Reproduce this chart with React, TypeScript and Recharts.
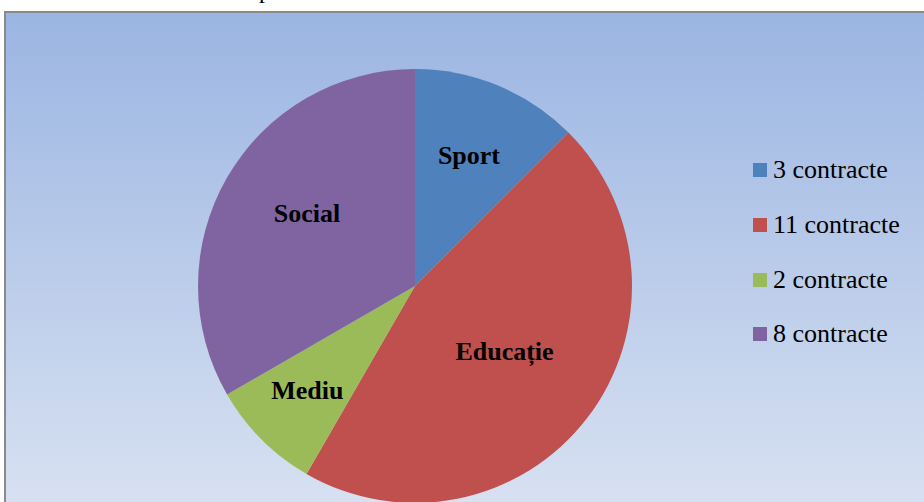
import React from "react";
import { PieChart, Pie, Cell, Legend } from "recharts";

const categories = ["Sport", "Educație", "Mediu", "Social"];
const contracts = [3, 11, 2, 8];
const legendLabels = ["3 contracte", "11 contracte", "2 contracte", "8 contracte"];
const colors = ["#4F81BD", "#C0504D", "#9BBB59", "#8064A2"];

// label placement inside each slice (Excel "best fit" style): radius fraction + angle nudge
const labelRadius = [0.65, 0.51, 0.69, 0.6];
const labelAngleShift = [0, 1.5, -1, -4];

const data = categories.map((name, i) => ({
  name,
  value: contracts[i],
  legend: legendLabels[i],
}));

const RADIAN = Math.PI / 180;
const serif = "'Liberation Serif', 'Times New Roman', serif";

const renderLabel = (props: any) => {
  const { cx, cy, midAngle, outerRadius, index, name } = props;
  const r = outerRadius * labelRadius[index];
  const a = (midAngle + labelAngleShift[index]) * RADIAN;
  const x = cx + r * Math.cos(-a);
  const y = cy + r * Math.sin(-a);
  return (
    <text
      x={x}
      y={y}
      textAnchor="middle"
      dominantBaseline="central"
      fill="#000"
      style={{ fontFamily: serif, fontWeight: 700, fontSize: 26 }}
    >
      {name}
    </text>
  );
};

const renderLegend = () => (
  <div style={{ fontFamily: serif, fontSize: 26, color: "#000" }}>
    {data.map((d, i) => (
      <div key={d.name} style={{ display: "flex", alignItems: "center", height: 54.7 }}>
        <span style={{ display: "inline-block", width: 14, height: 14, background: colors[i], marginRight: 6 }} />
        <span style={{ lineHeight: "26px" }}>{d.legend}</span>
      </div>
    ))}
  </div>
);

export default function App() {
  return (
    <div style={{ position: "absolute", left: 0, top: 0, width: 924, height: 502, overflow: "hidden", background: "#fff" }}>
      {/* chart title, mostly cut off by the top edge */}
      <div
        style={{
          position: "absolute",
          left: 259,
          top: -22,
          fontFamily: serif,
          fontSize: 24,
          lineHeight: "24px",
        }}
      >
        p
      </div>
      <div
        style={{
          position: "absolute",
          left: 4,
          top: 11,
          width: 960,
          height: 540,
          borderLeft: "2px solid #8a8a8a",
          borderTop: "2px solid #8a8a8a",
          background: "linear-gradient(180deg, #9BB5E2 0%, #DDE5F3 100%)",
        }}
      />
      <div style={{ position: "absolute", left: 0, top: 0 }}>
        <PieChart width={924} height={502} margin={{ top: 0, right: 0, bottom: 0, left: 0 }}>
          <Pie
            data={data}
            dataKey="value"
            nameKey="name"
            cx={415}
            cy={286}
            outerRadius={217}
            startAngle={90}
            endAngle={-270}
            stroke="none"
            label={renderLabel}
            labelLine={false}
            isAnimationActive={false}
          >
            {data.map((d, i) => (
              <Cell key={d.name} fill={colors[i]} />
            ))}
          </Pie>
          <Legend
            content={renderLegend}
            layout="vertical"
            wrapperStyle={{ position: "absolute", left: 753, top: 143, width: 170 }}
          />
        </PieChart>
      </div>
    </div>
  );
}
